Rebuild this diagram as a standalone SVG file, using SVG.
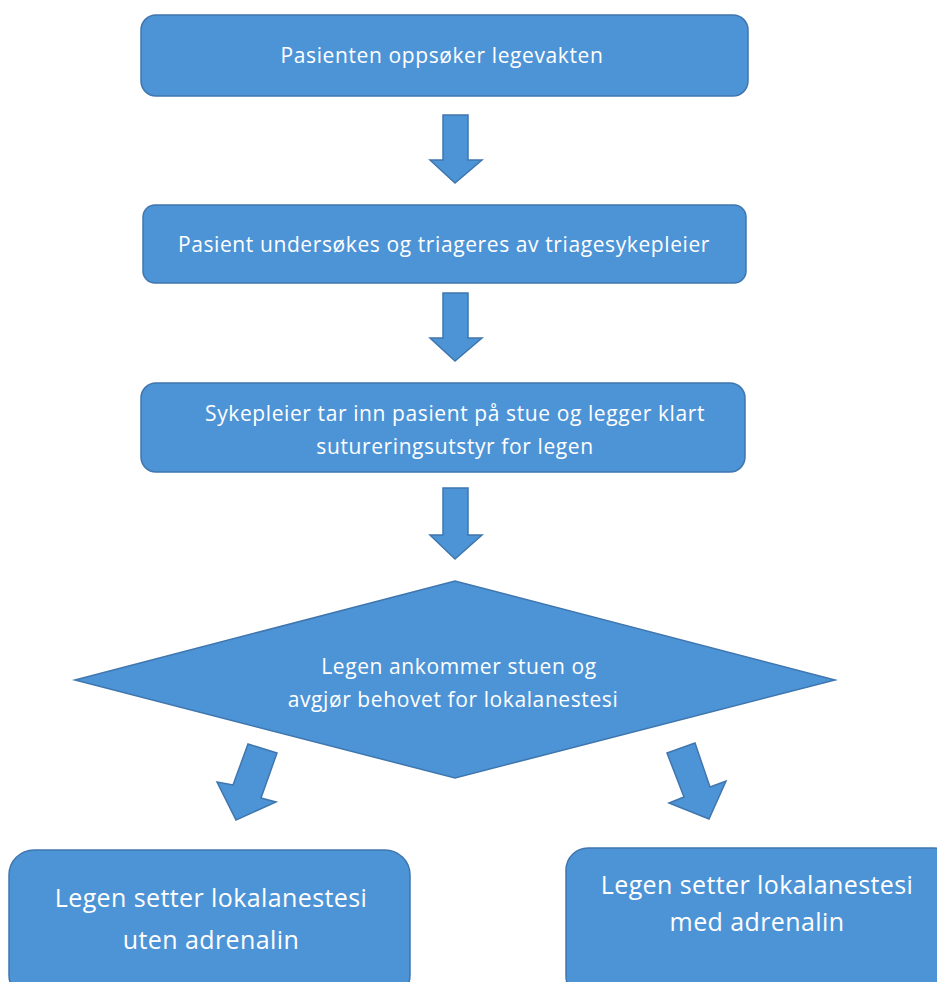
<svg xmlns="http://www.w3.org/2000/svg" width="937" height="982" viewBox="0 0 937 982">
<style>
.shape{fill:#4D94D7;stroke:#3F76AE;stroke-width:1.5}
.t{fill:#FFFFFF;font-family:"Open Sans",Lato,"Liberation Sans",sans-serif;text-anchor:middle}
.s{font-size:21px;letter-spacing:0.6px}
.l{font-size:25px;letter-spacing:0.4px}
</style>
<rect width="937" height="982" fill="#FFFFFF"/>
<g id="connectors">
<polygon class="shape" points="443,115 468,115 468,160 482,160 455,183 430,160 443,160"/>
<polygon class="shape" points="443,293 468,293 468,338 482,338 455,361 430,338 443,338"/>
<polygon class="shape" points="443,488 468,488 468,535 482,535 455,559 430,535 443,535"/>
<polygon class="shape" points="248,744 277,753 261,798 276,802 236,820 217,782 233,785"/>
<polygon class="shape" points="667,753 695,743 710,787 726,781 709,819 669,803 684,797"/>
</g>
<g id="n1">
<rect class="shape" x="141" y="15" width="607" height="81" rx="15"/>
<text class="t s" x="442" y="63">Pasienten oppsøker legevakten</text>
</g>
<g id="n2">
<rect class="shape" x="143" y="205" width="603" height="78" rx="12"/>
<text class="t s" x="444" y="252">Pasient undersøkes og triageres av triagesykepleier</text>
</g>
<g id="n3">
<rect class="shape" x="141" y="383" width="604" height="89" rx="15"/>
<text class="t s" x="455" y="421">Sykepleier tar inn pasient på stue og legger klart</text>
<text class="t s" x="455" y="454">sutureringsutstyr for legen</text>
</g>
<g id="n4">
<polygon class="shape" points="75,680 455,581 835,680 455,778"/>
<text class="t s" x="459" y="674">Legen ankommer stuen og</text>
<text class="t s" x="453" y="707">avgjør behovet for lokalanestesi</text>
</g>
<g id="n5">
<rect class="shape" x="9" y="850" width="401" height="150" rx="25"/>
<text class="t l" x="211" y="907">Legen setter lokalanestesi</text>
<text class="t l" x="211" y="949">uten adrenalin</text>
</g>
<g id="n6">
<rect class="shape" x="566" y="848" width="390" height="150" rx="22"/>
<text class="t l" x="757" y="894">Legen setter lokalanestesi</text>
<text class="t l" x="757" y="931">med adrenalin</text>
</g>
</svg>
